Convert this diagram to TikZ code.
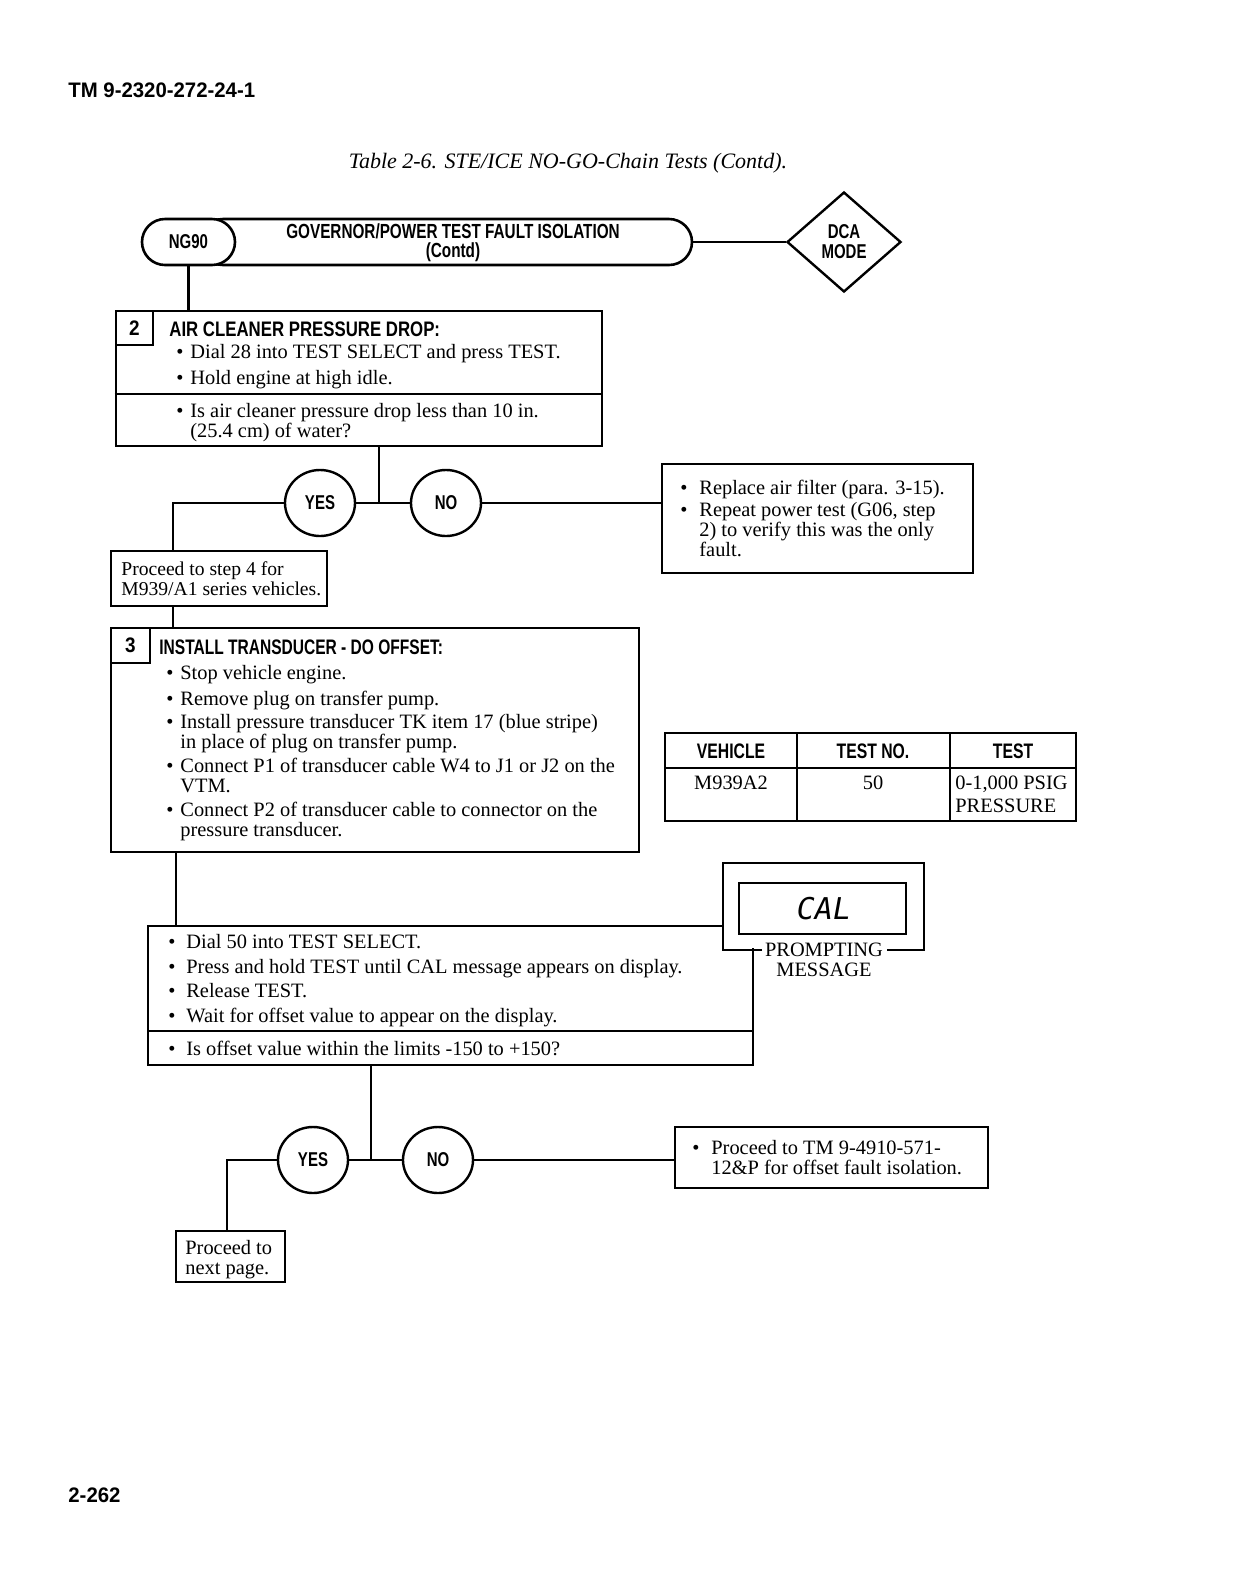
\documentclass[tikz,border=0pt]{standalone}
\usepackage{fontspec}
\usepackage{graphicx}
\setmainfont{Liberation Serif}
\setsansfont{Liberation Sans}
\newfontfamily\segfont[FakeSlant=0.18]{DejaVu Sans Mono}
\usetikzlibrary{shapes.geometric,fit}
\newcommand{\hd}[2][0.75]{\scalebox{#1}[1]{\sffamily\bfseries #2}}
\newcommand{\bul}[1][7pt]{\makebox[#1][l]{\textbullet}}
\newcommand{\ind}[1][7pt]{\hspace*{#1}}
\tikzset{
  box/.style={draw, line width=1.3pt, inner sep=0pt},
  conn/.style={line width=1.1pt},
  txt/.style={anchor=base west, yshift=-3pt, inner sep=0pt, align=left, font=\fontsize{10.2}{10}\selectfont},
  hdtxt/.style={anchor=base west, yshift=-3.5pt, inner sep=0pt, font=\fontsize{10.5}{12}\selectfont},
  ctxt/.style={inner sep=0pt, font=\fontsize{10.2}{12}\selectfont},
  yn/.style={ellipse, draw, line width=1.2pt, minimum width=35pt, minimum height=33pt, inner sep=0pt, font=\fontsize{10}{12}\selectfont},
}
\begin{document}
\begin{tikzpicture}[x=0.5pt,y=-0.5pt]
\useasboundingbox (0,0) rectangle (1237,1576);
\fill[white] (0,0) rectangle (1237,1576);

% header and title
\node[hdtxt] (hdr) at (68,90) {\hd[0.97]{TM 9-2320-272-24-1}};
\node[inner sep=0pt, font=\fontsize{11}{13}\selectfont\itshape] (title) at (568,163) {Table 2-6. STE/ICE NO-GO-Chain Tests (Contd).};

% banner
\node[box, rounded corners=11.5pt, fit={(200,219) (692,265)}] (ban) {};
\node[box, fill=white, rounded corners=11.5pt, fit={(142,219) (235,265)}] (ng) {};
\node[font=\fontsize{10}{12}\selectfont, inner sep=0pt] at (ng.center) {\hd{NG90}};
\node[anchor=base, inner sep=0pt, align=center, font=\fontsize{10.2}{9.2}\selectfont] (bant) at (453,257) {\hd{GOVERNOR/POWER TEST FAULT ISOLATION}\\\hd{(Contd)}};
\node[diamond, draw, line width=1.2pt, minimum width=57pt, minimum height=50pt, inner sep=0pt, align=center, font=\fontsize{10}{10}\selectfont] (dca) at (844,242) {\hd{DCA}\\\hd{MODE}};
\draw[conn] (ban.east) -- (dca.west);

% step 2
\node[box, fit={(116,311) (602,446)}] (s2) {};
\node[box, fit={(116,311) (153,345)}] (n2) {};
\node[font=\fontsize{10.5}{12}\selectfont, inner sep=0pt] at (n2.center) {\hd[0.9]{2}};
\draw[box] (s2.west |- 0,394) -- (s2.east |- 0,394);
\node[hdtxt] (s2h) at (169,329) {\hd[0.8]{AIR CLEANER PRESSURE DROP:}};
\node[txt] (s2a) at (176,352) {\bul Dial 28 into TEST SELECT and press TEST.};
\node[txt] (s2b) at (176,378) {\bul Hold engine at high idle.};
\node[txt] (s2c) at (176,431) {\bul Is air cleaner pressure drop less than 10 in.\\\ind(25.4 cm) of water?};
\draw[conn] (ng.south) -- (ng.south |- s2.north);

% yes/no 1
\coordinate (j1) at (379,503);
\coordinate (c1) at (173,503);
\node[yn] (yes1) at (320,503) {\hd{YES}};
\node[yn] (no1) at (446,503) {\hd{NO}};
\draw[conn] (j1 |- s2.south) -- (j1);
\draw[conn] (yes1.east) -- (no1.west);

\node[box, fit={(662,464) (973,573)}] (r1) {};
\node[txt] (r1a) at (680,488) {\bul[9.5pt]Replace air filter (para. 3-15).};
\node[txt] (r1b) at (680,550) {\bul[9.5pt]Repeat power test (G06, step\\\ind[9.5pt]2) to verify this was the only\\\ind[9.5pt]fault.};
\draw[conn] (no1.east) -- (no1.east -| r1.west);

\node[box, fit={(111,551) (327,606)}] (p1) {};
\node[txt, font=\fontsize{9.8}{9.6}\selectfont] (p1a) at (121,589) {Proceed to step 4 for\\M939/A1 series vehicles.};
\draw[conn] (yes1.west) -- (c1) -- (c1 |- p1.north);

% step 3
\node[box, fit={(111,628) (639,852)}] (s3) {};
\node[box, fit={(111,628) (150,663)}] (n3) {};
\node[font=\fontsize{10.5}{12}\selectfont, inner sep=0pt] at (n3.center) {\hd[0.9]{3}};
\draw[conn] (c1 |- p1.south) -- (c1 |- s3.north);
\node[hdtxt] (s3h) at (159,647) {\hd[0.74]{INSTALL TRANSDUCER - DO OFFSET:}};
\node[txt] (s3a) at (166,673) {\bul Stop vehicle engine.};
\node[txt] (s3b) at (166,699) {\bul Remove plug on transfer pump.};
\node[txt] (s3c) at (166,742) {\bul Install pressure transducer TK item 17 (blue stripe)\\\ind in place of plug on transfer pump.};
\node[txt] (s3e) at (166,786) {\bul Connect P1 of transducer cable W4 to J1 or J2 on the\\\ind VTM.};
\node[txt] (s3g) at (166,830) {\bul Connect P2 of transducer cable to connector on the\\\ind pressure transducer.};

% table
\node[box, fit={(665,733) (1076,821)}] (tab) {};
\draw[box] (797,733) -- (797,821);
\draw[box] (950,733) -- (950,821);
\draw[box] (665,768) -- (1076,768);
\node[font=\fontsize{10.5}{12}\selectfont, inner sep=0pt] (th1) at (731,751) {\hd{VEHICLE}};
\node[font=\fontsize{10.5}{12}\selectfont, inner sep=0pt] (th2) at (873,751) {\hd{TEST NO.}};
\node[font=\fontsize{10.5}{12}\selectfont, inner sep=0pt] (th3) at (1013,751) {\hd{TEST}};
\node[ctxt] (td1) at (731,783) {M939A2};
\node[ctxt] (td2) at (873,783) {50};
\node[txt, font=\fontsize{10.2}{11.5}\selectfont] (td3) at (955,806) {0-1,000 PSIG\\PRESSURE};

% step 4 box
\node[box, fit={(148,926) (753,1065)}] (s4) {};
\draw[box] (148,1031) -- (753,1031);
\coordinate (c2) at (176,0);
\draw[conn] (c2 |- s3.south) -- (c2 |- s4.north);
\node[txt] (s4a) at (168,942) {\bul[9pt]Dial 50 into TEST SELECT.};
\node[txt] (s4b) at (168,967) {\bul[9pt]Press and hold TEST until CAL message appears on display.};
\node[txt] (s4c) at (168,991) {\bul[9pt]Release TEST.};
\node[txt] (s4d) at (168,1016) {\bul[9pt]Wait for offset value to appear on the display.};
\node[txt] (s4e) at (168,1049) {\bul[9pt]Is offset value within the limits -150 to +150?};

% prompting frame
\fill[white] (723,865) rectangle (926,948);
\draw[box] (762,950) -- (723,950) -- (723,863) -- (924,863) -- (924,950) -- (887,950);
\node[box, fit={(739,883) (906,934)}] (disp) {};
\node[inner sep=0pt, font=\segfont\fontsize{15}{16}\selectfont] (cal) at (822,909) {CAL};
\node[anchor=base, yshift=-3pt, inner sep=0pt, align=center, font=\fontsize{10.2}{9.6}\selectfont] (prm) at (824,970) {PROMPTING\\MESSAGE};

% yes/no 2
\coordinate (j2) at (371,1160);
\coordinate (c3) at (227,1160);
\node[yn] (yes2) at (313,1160) {\hd{YES}};
\node[yn] (no2) at (438,1160) {\hd{NO}};
\draw[conn] (j2 |- s4.south) -- (j2);
\draw[conn] (yes2.east) -- (no2.west);

\node[box, fit={(675,1127) (988,1188)}] (r2) {};
\node[txt] (r2a) at (692,1168) {\bul[9.5pt]Proceed to TM 9-4910-571-\\\ind[9.5pt]12\&P for offset fault isolation.};
\draw[conn] (no2.east) -- (no2.east -| r2.west);

\node[box, fit={(176,1231) (285,1282)}] (p2) {};
\node[txt] (p2a) at (185,1268) {Proceed to\\next page.};
\draw[conn] (yes2.west) -- (c3) -- (c3 |- p2.north);

% page number
\node[hdtxt] (pg) at (68,1495) {\hd[0.97]{2-262}};
\end{tikzpicture}
\end{document}
